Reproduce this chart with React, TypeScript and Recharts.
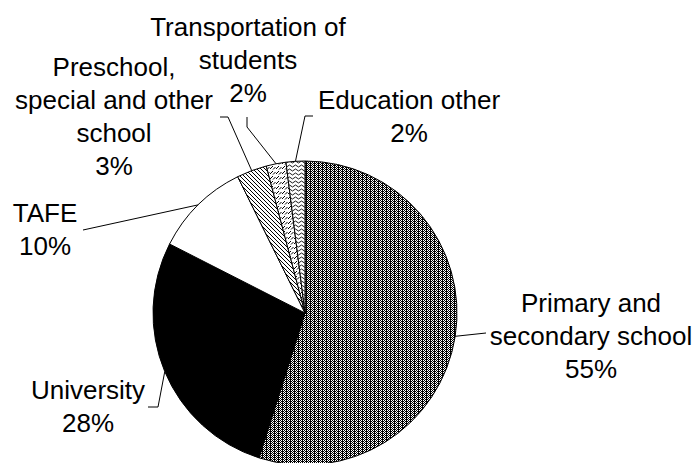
import { PieChart, Pie, Cell } from 'recharts'

// spending shares
const categories = [
  'Primary and secondary school',
  'University',
  'TAFE',
  'Preschool, special and other school',
  'Transportation of students',
  'Education other',
]
const shares = [54.9, 27.6, 10.2, 3.2, 2.1, 2.0]
const labelLines = [
  ['Primary and', 'secondary school'],
  ['University'],
  ['TAFE'],
  ['Preschool,', 'special and other', 'school'],
  ['Transportation of', 'students'],
  ['Education other'],
]
const fills = [
  'url(#pPrimary)',
  '#000000',
  '#ffffff',
  'url(#pPreschool)',
  'url(#pTransport)',
  'url(#pOther)',
]

const data = categories.map((name, i) => ({ name, value: shares[i] }))
const total = shares.reduce((a, b) => a + b, 0)

// where each label text sits and how its leader line bends
const labelPos = [
  { x: 591, y: 312, bend: [[486, 333]] },
  { x: 88, y: 399, bend: [[158, 407], [148, 407]] },
  { x: 45, y: 222, bend: [[83, 230]] },
  { x: 114, y: 76, bend: [[228, 117], [220, 117]] },
  { x: 248, y: 36, bend: [[247, 127], [247, 117]] },
  { x: 409, y: 109, bend: [[305, 116], [313, 116]] },
]

const RAD = Math.PI / 180
const LINE_H = 33

const renderLabel = (props: any) => {
  const { cx, cy, midAngle, outerRadius, index } = props
  const sx = cx + outerRadius * Math.cos(-midAngle * RAD)
  const sy = cy + outerRadius * Math.sin(-midAngle * RAD)
  const pos = labelPos[index]
  const pts = [[sx, sy], ...pos.bend].map(p => p.join(',')).join(' ')
  const lines = [...labelLines[index], `${Math.round((shares[index] / total) * 100)}%`]
  return (
    <g key={`lbl-${index}`}>
      <polyline points={pts} fill="none" stroke="#000" strokeWidth={1} />
      <text
        x={pos.x}
        y={pos.y}
        textAnchor="middle"
        fill="#000"
        fontSize={26}
        fontFamily="'Liberation Sans', Arial, sans-serif"
      >
        {lines.map((l, i) => (
          <tspan key={i} x={pos.x} y={pos.y + i * LINE_H}>{l}</tspan>
        ))}
      </text>
    </g>
  )
}

export default function App() {
  return (
    <div style={{ position: 'absolute', left: 0, top: 0, background: '#fff' }}>
      <PieChart width={696} height={463} margin={{ top: 0, right: 0, bottom: 0, left: 0 }}>
        <defs>
          <pattern id="pPrimary" width="4" height="2" patternUnits="userSpaceOnUse" shapeRendering="crispEdges">
            <rect width="4" height="2" fill="#fff" />
            <rect x="0" y="0" width="1" height="1" fill="#000" />
            <rect x="1" y="1" width="1" height="1" fill="#000" />
            <rect x="2" y="0" width="1" height="2" fill="#000" />
            <rect x="3" y="1" width="1" height="1" fill="#000" />
          </pattern>
          <pattern id="pPreschool" width="4" height="4" patternUnits="userSpaceOnUse">
            <rect width="4" height="4" fill="#fff" />
            <path d="M0,0 L4,4 M-1,3 L1,5 M3,-1 L5,1" stroke="#000" strokeWidth="1" />
          </pattern>
          <pattern id="pTransport" width="6" height="5" patternUnits="userSpaceOnUse">
            <rect width="6" height="5" fill="#fff" />
            <path d="M0,4 L3,1 M3,4.5 L5.5,2" stroke="#000" strokeWidth="1" />
          </pattern>
          <pattern id="pOther" width="6" height="4" patternUnits="userSpaceOnUse">
            <rect width="6" height="4" fill="#fff" />
            <path d="M0,2 Q1.5,0 3,2 T6,2" fill="none" stroke="#000" strokeWidth="0.9" />
          </pattern>
        </defs>
        <Pie
          data={data}
          dataKey="value"
          nameKey="name"
          cx={305}
          cy={313}
          outerRadius={152}
          startAngle={90}
          endAngle={-270}
          stroke="#000"
          strokeWidth={1}
          label={renderLabel}
          labelLine={false}
          isAnimationActive={false}
        >
          {data.map((d, i) => (
            <Cell key={d.name} fill={fills[i]} />
          ))}
        </Pie>
      </PieChart>
    </div>
  )
}
